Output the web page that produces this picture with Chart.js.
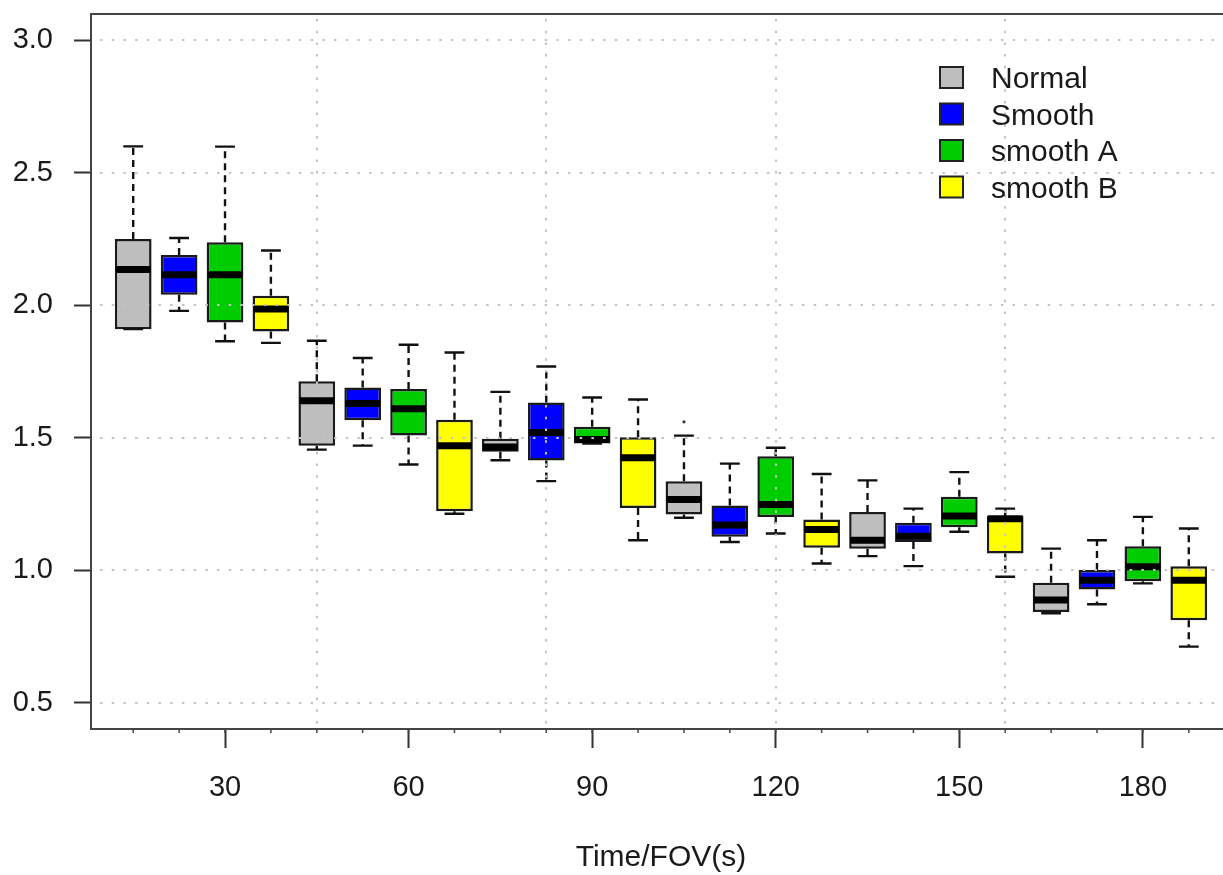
<!DOCTYPE html>
<html>
<head>
<meta charset="utf-8">
<script src="https://cdn.jsdelivr.net/npm/chart.js@4.4.1/dist/chart.umd.min.js"></script>
<style>
html,body{margin:0;padding:0;overflow:hidden;background:#ffffff;}
canvas{display:block;}
</style>
</head>
<body>
<canvas id="c" width="1240" height="875"></canvas>
<script>
// ---- data ----
const categories = ['30', '60', '90', '120', '150', '180'];
const seriesNames = ['Normal', 'Smooth', 'smooth A', 'smooth B'];
const seriesColors = ['#bebebe', '#0000ff', '#00cd00', '#ffff00'];
// each entry: [lower whisker, Q1, median, Q3, upper whisker]
const normal  = [[1.91, 1.91, 2.135, 2.25, 2.60], [1.455, 1.47, 1.64, 1.713, 1.866], [1.415, 1.447, 1.465, 1.496, 1.673], [1.198, 1.21, 1.267, 1.336, 1.508], [1.053, 1.081, 1.113, 1.219, 1.339], [0.837, 0.842, 0.887, 0.952, 1.081]];
const smooth  = [[1.979, 2.04, 2.115, 2.19, 2.254], [1.47, 1.566, 1.629, 1.69, 1.801], [1.336, 1.414, 1.52, 1.633, 1.769], [1.106, 1.126, 1.17, 1.244, 1.402], [1.015, 1.106, 1.128, 1.179, 1.232], [0.871, 0.927, 0.962, 1.0, 1.113]];
const smoothA = [[1.864, 1.935, 2.115, 2.238, 2.599], [1.399, 1.508, 1.609, 1.684, 1.851], [1.478, 1.478, 1.493, 1.541, 1.652], [1.138, 1.201, 1.248, 1.43, 1.462], [1.145, 1.162, 1.204, 1.277, 1.37], [0.95, 0.958, 1.013, 1.09, 1.201]];
const smoothB = [[1.858, 1.901, 1.986, 2.036, 2.207], [1.213, 1.222, 1.47, 1.568, 1.822], [1.113, 1.235, 1.424, 1.502, 1.644], [1.025, 1.084, 1.153, 1.191, 1.363], [0.975, 1.063, 1.194, 1.204, 1.232], [0.711, 0.811, 0.962, 1.015, 1.157]];
const outliers = [{series: 0, group: 3, value: 1.56}];
const yTicks = [0.5, 1.0, 1.5, 2.0, 2.5, 3.0];
const xGridValues = [0, 5, 10, 15, 20, 25];
const xTitle = 'Time/FOV(s)';

// ---- build ----
const allStats = [normal, smooth, smoothA, smoothB];
const nSeries = allStats.length;
const posOf = (g, s) => g * nSeries + s + 1;
const allPositions = [];
categories.forEach((c, g) => { for (let s = 0; s < nSeries; s++) allPositions.push(posOf(g, s)); });
const xTickPositions = categories.map((c, g) => posOf(g, 2));

const FONT = "'Liberation Sans', Arial, sans-serif";
const TEXT = '#1a1a1a';
const AXIS = '#444444';

const datasets = allStats.map((st, s) => ({
  label: seriesNames[s],
  data: st.map((v, g) => ({x: posOf(g, s), y: [v[1], v[3]]})),
  stats: st,
  backgroundColor: seriesColors[s],
  borderColor: '#1a1a1a',
  borderWidth: 2.5,
  borderSkipped: false,
  grouped: false,
  barPercentage: 0.8,
  categoryPercentage: 1.0
}));

const zeroPad = s => { s.paddingTop = 0; s.paddingBottom = 0; s.paddingLeft = 0; s.paddingRight = 0; };

const boxPlugin = {
  id: 'boxExtras',
  afterDatasetsDraw(chart) {
    const ctx = chart.ctx;
    const yS = chart.scales.y, xS = chart.scales.x;
    const area = chart.chartArea;
    ctx.save();
    // whiskers, staples, medians
    chart.data.datasets.forEach((ds, di) => {
      const meta = chart.getDatasetMeta(di);
      meta.data.forEach((el, i) => {
        const [lo, q1, med, q3, hi] = ds.stats[i];
        const cx = el.x, w = el.width;
        ctx.strokeStyle = '#111';
        ctx.lineWidth = 2.4;
        ctx.lineCap = 'butt';
        ctx.setLineDash([7, 5]);
        ctx.beginPath();
        if (hi > q3) { ctx.moveTo(cx, yS.getPixelForValue(q3)); ctx.lineTo(cx, yS.getPixelForValue(hi)); }
        if (lo < q1) { ctx.moveTo(cx, yS.getPixelForValue(q1)); ctx.lineTo(cx, yS.getPixelForValue(lo)); }
        ctx.stroke();
        ctx.setLineDash([]);
        const sw = w * 0.27;
        ctx.beginPath();
        [lo, hi].forEach(v => { const py = yS.getPixelForValue(v); ctx.moveTo(cx - sw, py); ctx.lineTo(cx + sw, py); });
        ctx.stroke();
        ctx.lineWidth = 7;
        ctx.strokeStyle = '#000';
        ctx.beginPath();
        const my = yS.getPixelForValue(med);
        ctx.moveTo(cx - w / 2 + 1, my); ctx.lineTo(cx + w / 2 - 1, my);
        ctx.stroke();
      });
    });
    // outliers
    outliers.forEach(o => {
      const px = xS.getPixelForValue(posOf(o.group, o.series));
      const py = yS.getPixelForValue(o.value);
      ctx.fillStyle = '#333';
      ctx.beginPath(); ctx.arc(px, py, 1.6, 0, Math.PI * 2); ctx.fill();
    });
    // dotted grid (drawn over boxes)
    ctx.save();
    ctx.beginPath(); ctx.rect(area.left, area.top, area.right - area.left, area.bottom - area.top); ctx.clip();
    ctx.strokeStyle = '#c4c4c4';
    ctx.lineWidth = 2;
    ctx.setLineDash([2.5, 9.2]);
    yTicks.forEach(v => {
      const py = Math.round(yS.getPixelForValue(v));
      ctx.beginPath(); ctx.moveTo(area.left + 9, py); ctx.lineTo(area.right, py); ctx.stroke();
    });
    xGridValues.forEach(v => {
      if (v < xS.min || v > xS.max) return;
      const px = Math.round(xS.getPixelForValue(v));
      ctx.beginPath(); ctx.moveTo(px, area.top + 5); ctx.lineTo(px, area.bottom); ctx.stroke();
    });
    ctx.restore();
    ctx.setLineDash([]);
    // minor ticks on x axis at every box position
    ctx.strokeStyle = AXIS; ctx.lineWidth = 1.5;
    allPositions.forEach(p => {
      const px = xS.getPixelForValue(p);
      ctx.beginPath(); ctx.moveTo(px, area.bottom); ctx.lineTo(px, area.bottom + 4); ctx.stroke();
    });
    // top frame line
    ctx.strokeStyle = AXIS; ctx.lineWidth = 2;
    ctx.beginPath(); ctx.moveTo(area.left - 1, area.top); ctx.lineTo(area.right + 1, area.top); ctx.stroke();
    // legend
    const lx = 940, ly0 = 88, ldy = 36.5;
    ctx.font = '30px ' + FONT;
    ctx.textBaseline = 'alphabetic';
    ctx.textAlign = 'left';
    chart.data.datasets.forEach((ds, i) => {
      const by = ly0 + i * ldy;
      ctx.fillStyle = ds.backgroundColor;
      ctx.fillRect(lx, by - 21, 23, 21);
      ctx.strokeStyle = '#222'; ctx.lineWidth = 2;
      ctx.strokeRect(lx, by - 21, 23, 21);
      ctx.fillStyle = TEXT;
      ctx.fillText(ds.label, lx + 51, by);
    });
    ctx.restore();
  }
};

new Chart(document.getElementById('c'), {
  type: 'bar',
  data: {datasets},
  options: {
    responsive: false,
    animation: false,
    events: [],
    devicePixelRatio: 1,
    layout: {autoPadding: false, padding: {left: 0, right: 9, top: 14, bottom: 0}},
    plugins: {legend: {display: false}, tooltip: {enabled: false}},
    scales: {
      x: {
        type: 'linear',
        min: 0.08,
        max: 24.92,
        offset: false,
        afterBuildTicks: s => { s.ticks = xTickPositions.map(v => ({value: v})); },
        afterFit: s => { s.height = 146; zeroPad(s); },
        ticks: {
          callback: v => categories[xTickPositions.indexOf(v)],
          font: {family: FONT, size: 29},
          color: TEXT,
          padding: 23,
          maxRotation: 0,
          autoSkip: false
        },
        grid: {display: true, drawOnChartArea: false, drawTicks: true, offset: false, tickLength: 19, tickColor: '#333', tickWidth: 2},
        border: {display: true, color: AXIS, width: 2},
        title: {display: true, text: xTitle, font: {family: FONT, size: 30}, color: TEXT, padding: {top: 0, bottom: -1}}
      },
      y: {
        type: 'linear',
        min: 0.4,
        max: 3.1,
        afterBuildTicks: s => { s.ticks = yTicks.map(v => ({value: v})); },
        afterFit: s => { s.width = 91; zeroPad(s); },
        ticks: {
          callback: v => Number(v).toFixed(1),
          font: {family: FONT, size: 29},
          color: TEXT,
          padding: 21
        },
        grid: {display: true, drawOnChartArea: false, drawTicks: true, tickLength: 17, tickColor: '#333', tickWidth: 2},
        border: {display: true, color: AXIS, width: 2}
      }
    }
  },
  plugins: [boxPlugin]
});
</script>
</body>
</html>
